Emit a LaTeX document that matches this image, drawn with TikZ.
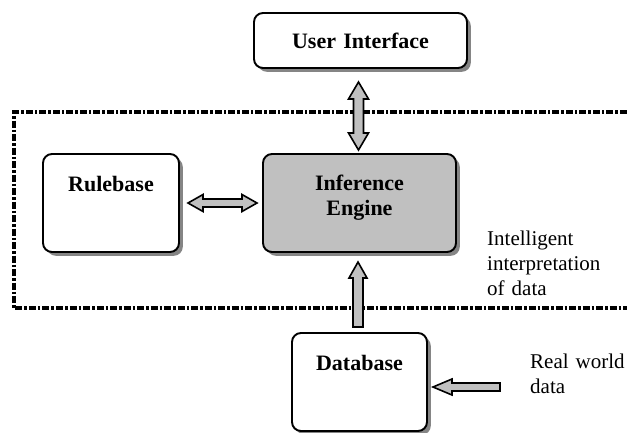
\documentclass[tikz,border=0pt]{standalone}
\usepackage{fontspec}
\setmainfont{Liberation Serif}
\usetikzlibrary{calc,shadows}
\definecolor{silver}{HTML}{C0C0C0}
\definecolor{shadowgray}{HTML}{858585}
\tikzset{
  box/.style={draw=black, line width=1.9pt, rounded corners=9pt, fill=white,
    inner sep=0pt, outer sep=0pt, align=center, anchor=north west,
    font=\fontsize{22}{25}\selectfont\bfseries,
    drop shadow={shadow xshift=3.8pt, shadow yshift=-3.8pt, fill=shadowgray, opacity=1}},
  blockarrow/.style={draw=black, line width=1.6pt, fill=silver, line join=miter},
  borderline/.style={line width=3.5pt, dash pattern=on 7pt off 2pt on 2.5pt off 2pt},
  plaintext/.style={inner sep=0pt, align=left, font=\fontsize{21}{25}\selectfont,
    text height=15pt, anchor=north west, text width=145pt}
}
\begin{document}
\begin{tikzpicture}[x=1pt,y=-1pt]
\useasboundingbox (0,0) rectangle (627,432);

% boxes
\node[box, text width=213pt, text height=35pt, text depth=20pt] (ui) at (254,13) {User Interface};
\node[box, text width=136pt, text height=37pt, text depth=61pt] (rb) at (43,154) {Rulebase};
\node[box, fill=silver, text width=193pt, text height=36pt, text depth=62pt] (ie) at (263,154) {Inference\\Engine};
\node[box, text width=135pt, text height=37pt, text depth=61pt] (db) at (292,333) {Database};

% texts
\node[plaintext] (intel) at (487,230) {Intelligent\\interpretation\\of data};
\node[plaintext] (rwd) at (530,353) {Real world\\data};

% dotted region border
\draw[borderline] (640,112) -- (14,112) -- (14,308) -- (640,308);

% arrow end points
\coordinate (uiA) at ($(ui.south)+(-2,14)$);
\coordinate (ieA) at ($(ie.north)+(-1,-4)$);
\coordinate (rbA) at ($(rb.east)+(9,0)$);
\coordinate (ieB) at ($(ie.west)+(-6,0)$);
\coordinate (ieC) at ($(ie.south)+(-1.5,10)$);
\coordinate (dbA) at ($(db.north)+(-1.5,-6)$);
\coordinate (dbB) at ($(db.east)+(6,5)$);
\coordinate (rw) at ($(dbB)+(67,0)$);

% User Interface <-> Inference Engine
\draw[blockarrow] (uiA) -- ($(uiA)+(10,17)$) -- ($(uiA)+(5,17)$) -- ($(ieA)+(5,-17)$)
  -- ($(ieA)+(10,-17)$) -- (ieA) -- ($(ieA)+(-10,-17)$) -- ($(ieA)+(-5,-17)$)
  -- ($(uiA)+(-5,17)$) -- ($(uiA)+(-10,17)$) -- cycle;

% Rulebase <-> Inference Engine
\draw[blockarrow] (rbA) -- ($(rbA)+(15,-8.5)$) -- ($(rbA)+(15,-4)$) -- ($(ieB)+(-15,-4)$)
  -- ($(ieB)+(-15,-8.5)$) -- (ieB) -- ($(ieB)+(-15,8.5)$) -- ($(ieB)+(-15,4)$)
  -- ($(rbA)+(15,4)$) -- ($(rbA)+(15,8.5)$) -- cycle;

% Database -> Inference Engine
\draw[blockarrow] (ieC) -- ($(ieC)+(9,16)$) -- ($(ieC)+(5,16)$) -- ($(dbA)+(5,0)$)
  -- ($(dbA)+(-5,0)$) -- ($(ieC)+(-5,16)$) -- ($(ieC)+(-9,16)$) -- cycle;

% Real world data -> Database
\draw[blockarrow] (dbB) -- ($(dbB)+(19,-8)$) -- ($(dbB)+(19,-4)$) -- ($(rw)+(0,-4)$)
  -- ($(rw)+(0,4)$) -- ($(dbB)+(19,4)$) -- ($(dbB)+(19,8)$) -- cycle;
\end{tikzpicture}
\end{document}
